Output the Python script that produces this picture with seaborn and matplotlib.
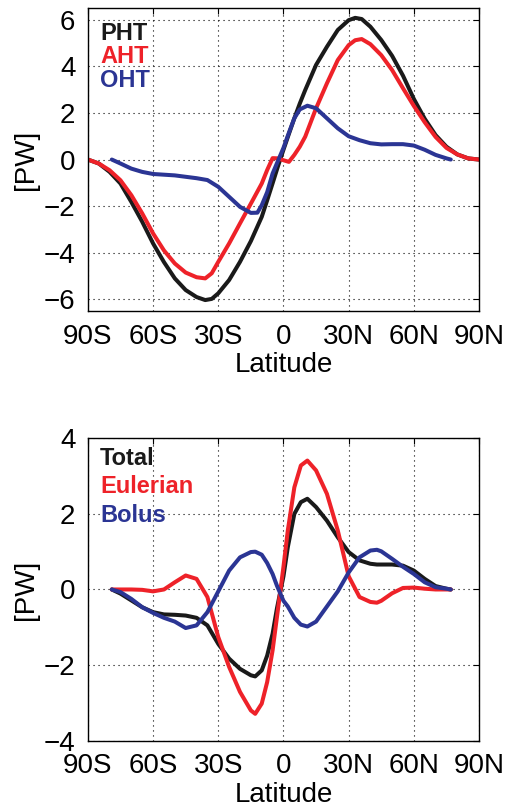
import numpy as np
import pandas as pd
import matplotlib
matplotlib.use("Agg")
import matplotlib.pyplot as plt
import seaborn as sns

# ---------------- data ----------------
lat_top = [-90, -85, -80, -75, -70, -65, -60, -55, -50, -45, -40, -36, -33, -30, -25, -20, -15, -10,
           -7.5, -5, -2.5, 0, 2.5, 5, 7.5, 10, 15, 20, 25, 30, 33, 36, 40, 45, 50, 55, 60, 65, 70, 75,
           80, 85, 90]
pht = [0.0, -0.17, -0.53, -1.03, -1.82, -2.67, -3.6, -4.4, -5.1, -5.6, -5.9, -6.03, -5.98, -5.74,
       -5.17, -4.39, -3.5, -2.46, -1.75, -1.02, -0.28, 0.42, 1.1, 1.77, 2.4, 2.98, 4.06, 4.84, 5.56,
       5.98, 6.08, 6.03, 5.7, 5.13, 4.45, 3.6, 2.6, 1.75, 1.05, 0.55, 0.22, 0.05, 0.0]
aht = [0.0, -0.17, -0.46, -0.89, -1.53, -2.31, -3.17, -3.9, -4.46, -4.85, -5.05, -5.1, -4.88, -4.39,
       -3.6, -2.74, -1.89, -1.03, -0.45, 0.06, 0.05, -0.03, -0.1, 0.2, 0.55, 0.98, 2.2, 3.27, 4.27,
       4.91, 5.12, 5.17, 4.95, 4.48, 3.84, 3.06, 2.3, 1.6, 0.97, 0.5, 0.22, 0.05, 0.0]

lat_oht = [-79, -75, -70, -65, -60, -55, -50, -45, -40, -35, -30, -25, -20, -15, -12, -10, -7.5, -5,
           -2.5, 0, 2.5, 5, 7.5, 11, 15, 20, 25, 30, 35, 40, 45, 50, 55, 60, 65, 70, 75, 77]
oht = [0.0, -0.17, -0.39, -0.53, -0.62, -0.65, -0.68, -0.74, -0.8, -0.88, -1.17, -1.6, -2.03, -2.29,
       -2.28, -1.96, -1.4, -0.6, -0.05, 0.5, 1.15, 1.77, 2.15, 2.31, 2.2, 1.77, 1.34, 1.0, 0.83, 0.7,
       0.65, 0.66, 0.66, 0.6, 0.42, 0.2, 0.05, 0.0]

lat_bot = [-79, -75, -70, -65, -60, -55, -50, -45, -40, -35, -30, -25, -20, -15, -13, -10, -7.5, -5,
           -3, 0, 2, 5, 8, 11, 15, 20, 25, 30, 35, 40, 43, 45, 50, 55, 60, 65, 70, 75, 77]
total = [0.0, -0.11, -0.29, -0.47, -0.6, -0.66, -0.67, -0.69, -0.75, -0.95, -1.44, -1.83, -2.1,
         -2.27, -2.3, -2.14, -1.75, -1.17, -0.5, 0.35, 1.12, 2.0, 2.31, 2.4, 2.18, 1.82, 1.38, 0.99,
         0.77, 0.68, 0.66, 0.66, 0.66, 0.63, 0.5, 0.28, 0.09, 0.02, 0.0]
eulerian = [0.0, 0.0, 0.0, -0.01, -0.05, 0.0, 0.19, 0.37, 0.28, -0.2, -1.26, -2.05, -2.71, -3.2,
            -3.29, -3.02, -2.45, -1.61, -0.73, 0.6, 1.56, 2.7, 3.28, 3.41, 3.15, 2.53, 1.56, 0.35,
            -0.2, -0.33, -0.35, -0.3, -0.1, 0.04, 0.05, 0.02, 0.0, 0.0, 0.0]
bolus = [0.0, -0.07, -0.25, -0.47, -0.62, -0.75, -0.85, -1.02, -0.95, -0.6, -0.05, 0.5, 0.85, 0.99,
         1.0, 0.92, 0.7, 0.41, 0.1, -0.3, -0.45, -0.75, -0.93, -0.98, -0.85, -0.45, -0.05, 0.45, 0.85,
         1.03, 1.05, 1.01, 0.81, 0.6, 0.41, 0.19, 0.06, 0.02, 0.0]

xticks = [-90, -60, -30, 0, 30, 60, 90]
xticklabels = ["90S", "60S", "30S", "0", "30N", "60N", "90N"]
yticks_top = [-6, -4, -2, 0, 2, 4, 6]
yticks_bot = [-4, -2, 0, 2, 4]

# ---------------- style ----------------
sns.set_style("white")
plt.rcParams["font.family"] = ["Liberation Sans", "DejaVu Sans"]
plt.rcParams["text.color"] = "k"
plt.rcParams["axes.labelcolor"] = "k"

BLACK = "#1a1a1a"
RED = "#ee2229"
BLUE = "#2b3594"

fig = plt.figure(figsize=(5.08, 8.07), dpi=100)
ax1 = fig.add_axes([0.173, 0.6146, 0.770, 0.3754])
ax2 = fig.add_axes([0.173, 0.0822, 0.770, 0.3747])

lkw = dict(lw=2.9, sort=False, solid_joinstyle="round")
sns.lineplot(x=lat_top, y=pht, ax=ax1, color=BLACK, **lkw)
sns.lineplot(x=lat_top, y=aht, ax=ax1, color=RED, **lkw)
sns.lineplot(x=lat_oht, y=oht, ax=ax1, color=BLUE, **lkw)

sns.lineplot(x=lat_bot, y=total, ax=ax2, color=BLACK, **lkw)
sns.lineplot(x=lat_bot, y=eulerian, ax=ax2, color=RED, **lkw)
sns.lineplot(x=lat_bot, y=bolus, ax=ax2, color=BLUE, **lkw)

for ax, yt, ylim in [(ax1, yticks_top, (-6.5, 6.5)), (ax2, yticks_bot, (-4, 4))]:
    ax.set_xlim(-90, 90)
    ax.set_ylim(*ylim)
    ax.set_xticks(xticks)
    ax.set_xticklabels(xticklabels)
    ax.set_yticks(yt)
    ax.grid(True, color="k", linestyle=(0, (1, 3.5)), linewidth=0.8)
    ax.tick_params(direction="in", length=4, width=0.8, labelsize=20, pad=9,
                   top=True, right=True, colors="k")
    for s in ax.spines.values():
        s.set_color("k")
        s.set_linewidth(1.0)
    ax.set_xlabel("Latitude", fontsize=20, labelpad=2, color="k")
    ax.set_ylabel("[PW]", fontsize=20, color="k")
    ax.yaxis.set_label_coords(-0.125, 0.5)

tkw = dict(transform=ax1.transAxes, fontsize=17, fontweight="bold", ha="left", va="baseline")
ax1.text(0.031, 0.894, "PHT", color=BLACK, **tkw)
ax1.text(0.031, 0.818, "AHT", color=RED, **tkw)
ax1.text(0.031, 0.739, "OHT", color=BLUE, **tkw)

tkw2 = dict(transform=ax2.transAxes, fontsize=17, fontweight="bold", ha="left", va="baseline")
ax2.text(0.031, 0.912, "Total", color=BLACK, **tkw2)
ax2.text(0.031, 0.819, "Eulerian", color=RED, **tkw2)
ax2.text(0.031, 0.724, "Bolus", color=BLUE, **tkw2)

fig.savefig("out.png", dpi=100)
